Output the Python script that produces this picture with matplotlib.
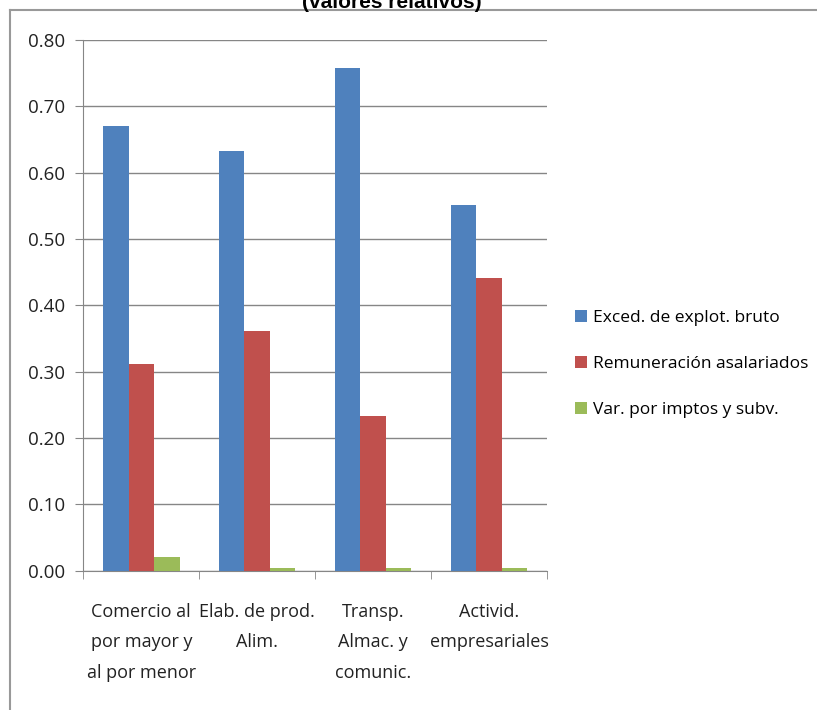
import numpy as np
import matplotlib
matplotlib.use("Agg")
import matplotlib.pyplot as plt
from matplotlib.lines import Line2D

plt.rcParams['font.family'] = ['Open Sans', 'DejaVu Sans']

categorias = ["Comercio al\npor mayor y\nal por menor", "Elab. de prod.\nAlim.",
              "Transp.\nAlmac. y\ncomunic.", "Activid.\nempresariales"]
excedente = [0.67, 0.633, 0.758, 0.551]
remuneracion = [0.312, 0.362, 0.233, 0.441]
impuestos = [0.021, 0.005, 0.005, 0.005]
series = ["Exced. de explot. bruto", "Remuneración asalariados", "Var. por imptos y subv."]
colores = ["#4F81BD", "#C0504D", "#9BBB59"]

fig = plt.figure(figsize=(8.17, 7.10), dpi=100)
ax = fig.add_axes([0.102, 0.196, 0.5675, 0.748])

x = np.arange(len(categorias))
w = 0.22
for i, (vals, nom, col) in enumerate(zip([excedente, remuneracion, impuestos], series, colores)):
    ax.bar(x + (i - 1) * w, vals, w, color=col, label=nom, zorder=3)

ax.set_xlim(-0.5, len(categorias) - 0.5)
ax.set_ylim(0, 0.8)
ax.set_yticks(np.arange(0, 0.81, 0.1))
ax.set_yticklabels([f"{v:.2f}" for v in np.arange(0, 0.81, 0.1)], fontsize=13.5, color="#222222")
ax.yaxis.grid(True, color="#868686", linewidth=1, zorder=0)
ax.set_xticks(x)
ax.set_xticklabels(categorias, fontsize=13, color="#222222", linespacing=1.9)
ax.tick_params(axis='x', length=0, pad=23)
ax.tick_params(axis='y', length=6, color="#868686", pad=7)
ax.set_xticks(np.arange(-0.5, len(categorias)), minor=True)
ax.tick_params(axis='x', which='minor', length=6, color="#868686", direction='out')
for s in ['top', 'right']:
    ax.spines[s].set_visible(False)
ax.spines['left'].set_color("#868686")
ax.spines['bottom'].set_color("#868686")

ax.legend(loc='center left', bbox_to_anchor=(1.026, 0.39), frameon=False, fontsize=12.5,
          handlelength=0.7, handleheight=0.7, handletextpad=0.35, labelspacing=1.72)

# marco exterior del gráfico
fig.add_artist(Line2D([10/817, 10/817], [0, 1 - 10/710], color="#999999", lw=1.5))
fig.add_artist(Line2D([10/817, 1], [1 - 10/710, 1 - 10/710], color="#999999", lw=1.5))

fig.text(0.48, 0.997, "(valores relativos)", ha='center', va='center',
         fontsize=15, fontweight='bold', family=['Liberation Sans', 'DejaVu Sans'])

fig.savefig("out.png", dpi=100)
